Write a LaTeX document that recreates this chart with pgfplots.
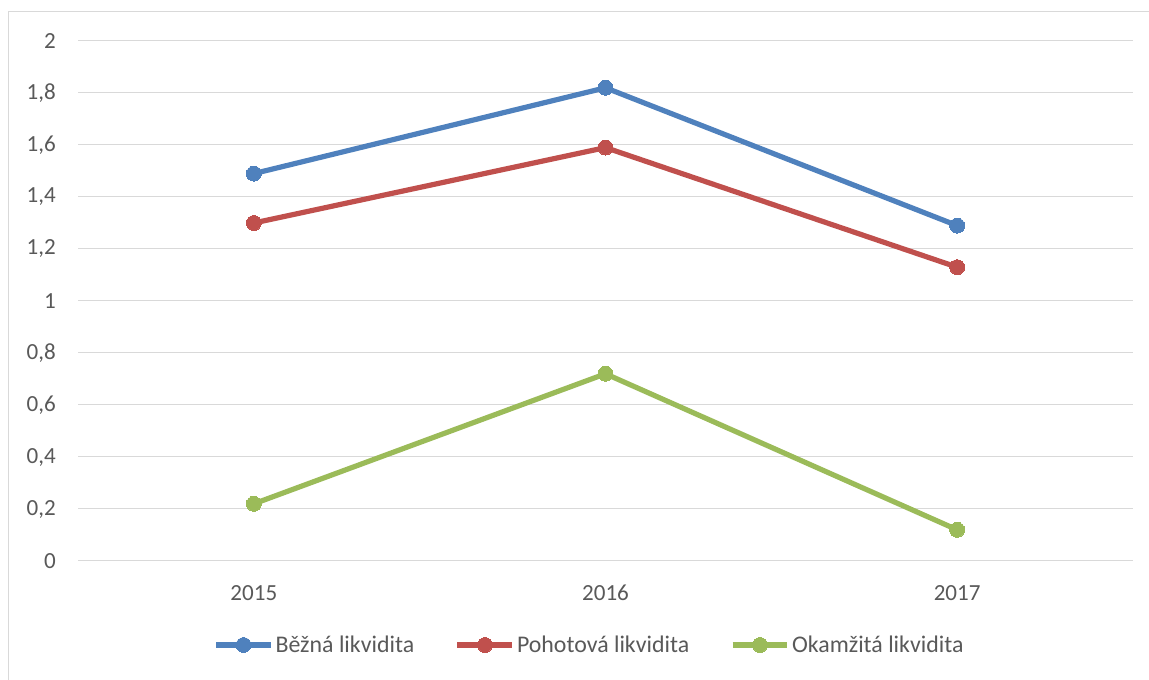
\documentclass[border=0pt]{standalone}
\usepackage{fontspec}
\setmainfont{Carlito}
\usepackage{pgfplots}
\pgfplotsset{compat=1.18}
\definecolor{cblue}{RGB}{79,129,189}
\definecolor{cred}{RGB}{192,80,77}
\definecolor{cgreen}{RGB}{155,187,89}
\definecolor{gridgray}{RGB}{217,217,217}
\definecolor{textgray}{RGB}{89,89,89}
\begin{document}
\begin{tikzpicture}[font=\fontsize{17.3pt}{20pt}\selectfont]
\useasboundingbox (0,0) rectangle (861.75pt,510pt);
\draw[gridgray, line width=0.75pt] (6pt,0) -- (6pt,501pt) -- (861.75pt,501pt);
\begin{axis}[
  at={(58.5pt,89.25pt)}, anchor=south west,
  scale only axis, width=791.25pt, height=390pt,
  xmin=-0.5, xmax=2.5, ymin=0, ymax=2,
  xtick={0,1,2}, xticklabels={2015,2016,2017},
  ytick={0,0.2,0.4,0.6,0.8,1,1.2,1.4,1.6,1.8,2},
  yticklabels={0,{0,2},{0,4},{0,6},{0,8},1,{1,2},{1,4},{1,6},{1,8},2},
  axis line style={draw=none},
  major tick length=0pt,
  ymajorgrids, grid style={gridgray, line width=0.75pt},
  tick label style={text=textgray, font=\fontsize{17.3pt}{20pt}\selectfont},
  yticklabel style={anchor=east, inner sep=0pt, xshift=-16.5pt},
  xticklabel style={anchor=center, inner sep=0pt, yshift=-24pt},
  clip=false,
  legend columns=3,
  legend style={at={(0.4848,-0.1615)}, anchor=center, draw=none, fill=none,
    font=\fontsize{17.9pt}{20pt}\selectfont, text=textgray,
    nodes={inner sep=1.5pt},
    /tikz/every even column/.append style={column sep=29pt}},
  legend image code/.code={%
    \draw[#1, mark repeat=2, mark phase=2] plot coordinates {(0pt,0pt) (20.6pt,0pt) (41.2pt,0pt)};},
  every axis plot/.append style={line width=3.9pt, mark=*, mark size=5.6pt},
]
\addplot[cblue, mark options={fill=cblue, draw=cblue, line width=0pt}] coordinates {(0,1.49) (1,1.82) (2,1.29)};
\addlegendentry{Běžná likvidita}
\addplot[cred, mark options={fill=cred, draw=cred, line width=0pt}] coordinates {(0,1.30) (1,1.59) (2,1.13)};
\addlegendentry{Pohotová likvidita}
\addplot[cgreen, mark options={fill=cgreen, draw=cgreen, line width=0pt}] coordinates {(0,0.22) (1,0.72) (2,0.12)};
\addlegendentry{Okamžitá likvidita}
\end{axis}
\end{tikzpicture}
\end{document}
